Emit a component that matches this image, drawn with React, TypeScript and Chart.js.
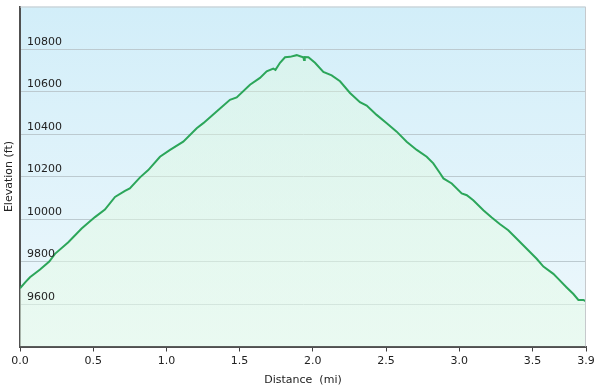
import React, { useEffect, useRef } from "react";
import { Chart, registerables } from "chart.js";

Chart.register(...registerables);

const distanceMi = [
  0.0, 0.04, 0.068, 0.137, 0.2, 0.239, 0.33, 0.421, 0.512, 0.58, 0.649, 0.717, 0.75, 0.82, 0.876,
  0.956, 1.025, 1.115, 1.207, 1.252, 1.343, 1.434, 1.48, 1.571, 1.639, 1.685, 1.73, 1.745, 1.776,
  1.81, 1.844, 1.89, 1.913, 1.935, 1.94, 1.945, 1.97, 2.015, 2.072, 2.129, 2.186, 2.254, 2.322,
  2.368, 2.436, 2.505, 2.573, 2.641, 2.71, 2.778, 2.823, 2.869, 2.892, 2.949, 3.017, 3.052, 3.096,
  3.165, 3.222, 3.279, 3.335, 3.393, 3.461, 3.529, 3.575, 3.643, 3.677, 3.734, 3.78, 3.814, 3.848,
  3.866,
];
const elevationFt = [
  9674, 9705, 9726, 9762, 9800, 9836, 9891, 9955, 10009, 10044, 10104, 10132, 10144, 10196, 10230,
  10293, 10325, 10364, 10427, 10451, 10506, 10561, 10572, 10632, 10664, 10695, 10708, 10702, 10735,
  10761, 10763, 10771, 10766, 10761, 10748, 10762, 10761, 10735, 10692, 10676, 10648, 10593, 10550,
  10534, 10490, 10451, 10411, 10364, 10325, 10293, 10262, 10215, 10191, 10167, 10120, 10112, 10088,
  10041, 10007, 9975, 9947, 9907, 9860, 9813, 9776, 9742, 9718, 9678, 9647, 9619, 9619, 9612,
];
const yTicks = [9600, 9800, 10000, 10200, 10400, 10600, 10800];
const xTicks = [0, 0.5, 1.0, 1.5, 2.0, 2.5, 3.0, 3.5, 3.866];

const FONT = "'DejaVu Sans', Verdana, sans-serif";

export default function App() {
  const ref = useRef<HTMLCanvasElement | null>(null);

  useEffect(() => {
    if (!ref.current) return;
    const bgPlugin = {
      id: "bgPlugin",
      beforeDraw(chart: any) {
        const { ctx, chartArea: a } = chart;
        if (!a) return;
        const g = ctx.createLinearGradient(0, a.top, 0, a.bottom);
        g.addColorStop(0, "#d2eef9");
        g.addColorStop(1, "#eef8fc");
        ctx.save();
        ctx.fillStyle = g;
        ctx.fillRect(a.left, a.top, a.right - a.left, a.bottom - a.top);
        ctx.restore();
      },
      afterDatasetsDraw(chart: any) {
        const { ctx, chartArea: a } = chart;
        const ys = chart.scales.y;
        ctx.save();
        ctx.fillStyle = "#222";
        ctx.font = "11px " + FONT;
        ctx.textAlign = "left";
        ctx.textBaseline = "middle";
        yTicks.forEach((v) => {
          ctx.fillText(String(v), a.left + 7, ys.getPixelForValue(v) - 7);
        });
        ctx.restore();
      },
      afterDraw(chart: any) {
        const { ctx, chartArea: a } = chart;
        ctx.save();
        ctx.strokeStyle = "#c6c9cc";
        ctx.lineWidth = 1;
        ctx.beginPath();
        ctx.moveTo(a.left, a.top + 0.5);
        ctx.lineTo(a.right - 0.5, a.top + 0.5);
        ctx.lineTo(a.right - 0.5, a.bottom);
        ctx.stroke();
        ctx.restore();
      },
    };

    const chart = new Chart(ref.current, {
      type: "line",
      data: {
        datasets: [
          {
            data: distanceMi.map((d, i) => ({ x: d, y: elevationFt[i] })),
            borderColor: "#2ca65a",
            borderWidth: 2,
            pointRadius: 0,
            tension: 0,
            fill: "start",
            backgroundColor: (c: any) => {
              const a = c.chart.chartArea;
              if (!a) return "rgba(228,250,235,0.5)";
              const g = c.chart.ctx.createLinearGradient(0, a.top, 0, a.bottom);
              g.addColorStop(0, "rgba(222,250,215,0.3)");
              g.addColorStop(1, "rgba(231,251,234,0.6)");
              return g;
            },
          },
        ],
      },
      options: {
        animation: false,
        responsive: true,
        maintainAspectRatio: false,
        layout: { padding: { top: 6.5, right: 8, left: 0, bottom: 0 } },
        plugins: { legend: { display: false }, tooltip: { enabled: false } },
        scales: {
          x: {
            type: "linear",
            min: 0,
            max: 3.866,
            afterBuildTicks: (s: any) => {
              s.ticks = xTicks.map((v) => ({ value: v }));
            },
            afterFit: (s: any) => {
              s.height = 45.5;
              s.paddingLeft = 0;
              s.paddingRight = 0;
            },
            border: { color: "#505050", width: 2 },
            grid: { drawOnChartArea: false, drawTicks: true, tickLength: 5, color: "#404040", tickWidth: 1 },
            ticks: {
              color: "#222",
              font: { family: FONT, size: 11 },
              padding: 3,
              maxRotation: 0,
              autoSkip: false,
              callback: (v: any) => Number(v).toFixed(1),
            },
            title: {
              display: true,
              text: "Distance  (mi)",
              color: "#222",
              font: { family: FONT, size: 11 },
              padding: { top: 0, bottom: 5 },
            },
          },
          y: {
            type: "linear",
            min: 9400,
            max: 11000,
            afterBuildTicks: (s: any) => {
              s.ticks = yTicks.map((v) => ({ value: v }));
            },
            afterFit: (s: any) => {
              s.width = 20;
              s.paddingTop = 0;
              s.paddingBottom = 0;
            },
            border: { color: "#505050", width: 2 },
            grid: { color: "#bccad0", drawTicks: false, lineWidth: 1 },
            ticks: { display: false },
            title: {
              display: true,
              text: "Elevation (ft)",
              color: "#222",
              font: { family: FONT, size: 11 },
              padding: { top: 3, bottom: 0 },
            },
          },
        },
      },
      plugins: [bgPlugin],
    });
    return () => chart.destroy();
  }, []);

  return (
    <div style={{ position: "absolute", left: 0, top: 0, width: 594, height: 392, background: "#fff" }}>
      <canvas ref={ref} />
    </div>
  );
}
